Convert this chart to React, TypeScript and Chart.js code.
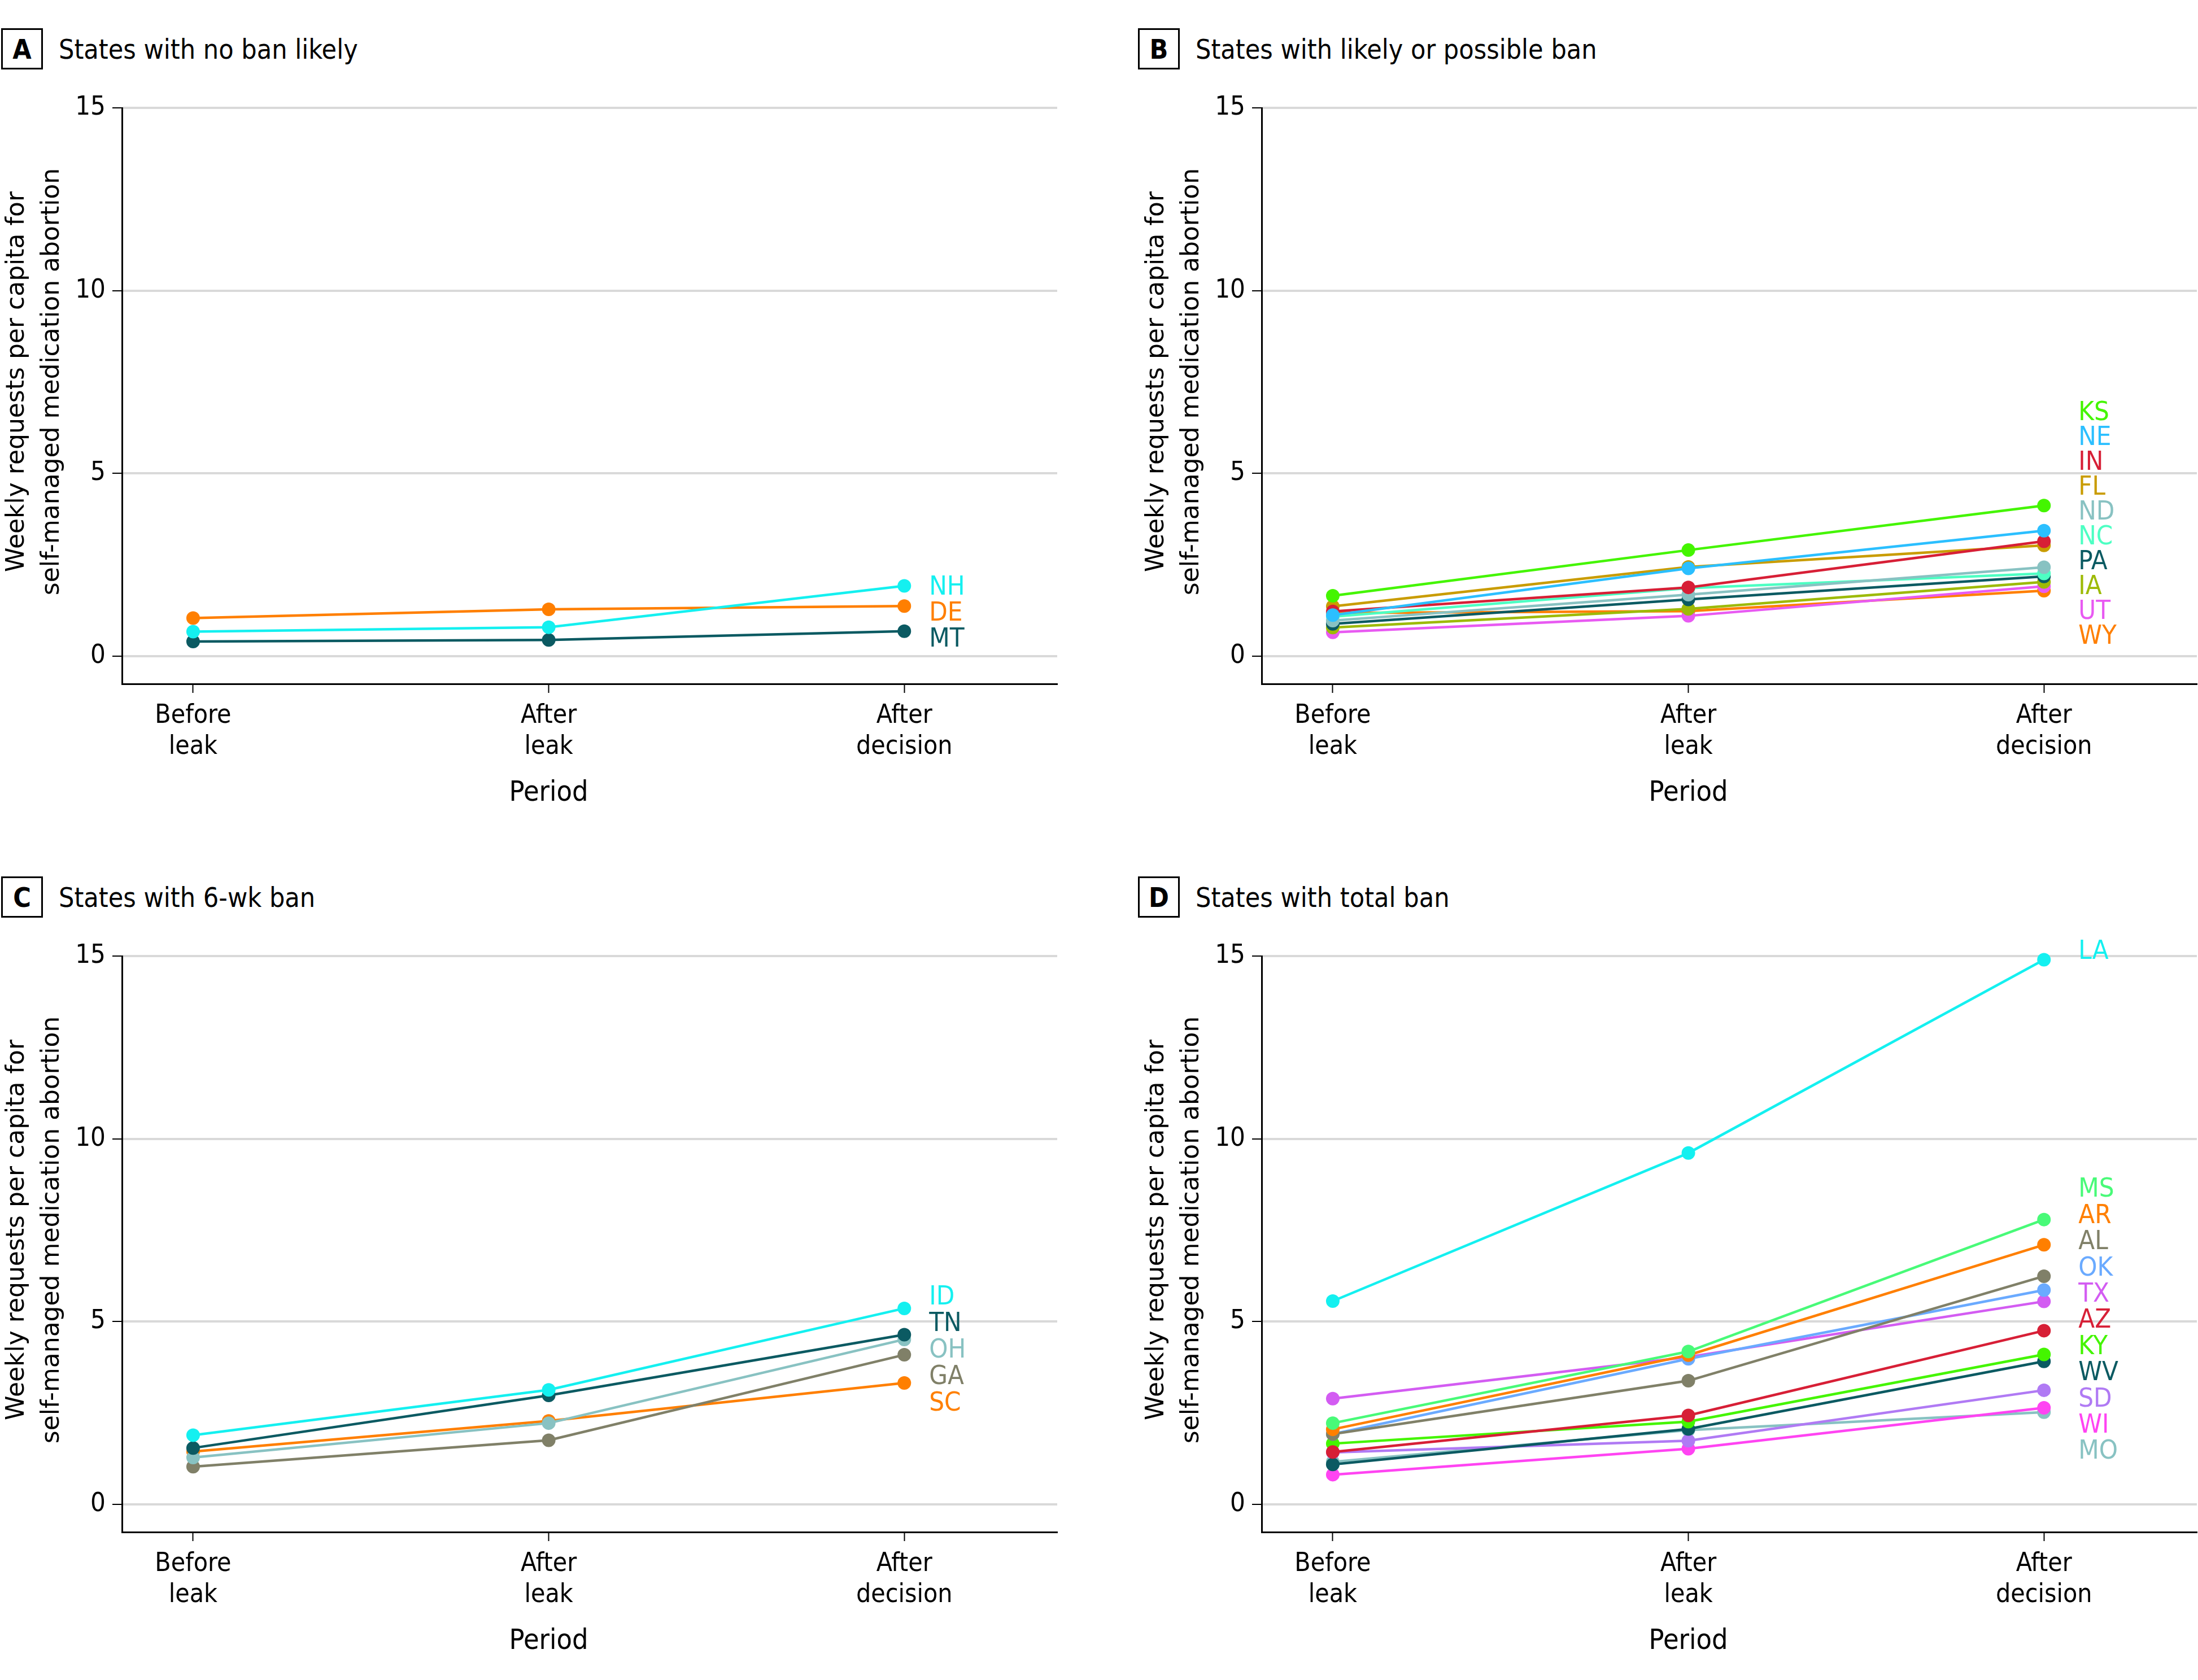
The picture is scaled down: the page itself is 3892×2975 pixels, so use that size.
import React, { useEffect, useRef } from 'react';
import { Chart, registerables } from 'chart.js';

Chart.register(...registerables);

// ---------- data ----------
const periodLabels = [['Before', 'leak'], ['After', 'leak'], ['After', 'decision']];
const yTickValues = [0, 5, 10, 15];

const statesA = ['NH', 'DE', 'MT'];
const valuesA = [
  [0.67, 0.79, 1.92],
  [1.04, 1.28, 1.37],
  [0.40, 0.44, 0.68],
];
const colorsA = ['#14f0f0', '#ff7f00', '#0b5a62'];

const statesB = ['KS', 'NE', 'IN', 'FL', 'ND', 'NC', 'PA', 'IA', 'UT', 'WY'];
const valuesB = [
  [1.65, 2.90, 4.12],
  [1.12, 2.40, 3.43],
  [1.22, 1.88, 3.14],
  [1.36, 2.44, 3.03],
  [0.97, 1.68, 2.43],
  [1.08, 1.86, 2.26],
  [0.88, 1.55, 2.18],
  [0.78, 1.29, 2.03],
  [0.65, 1.10, 1.91],
  [1.18, 1.23, 1.79],
];
const colorsB = ['#44f500', '#2bbfff', '#d71f36', '#c99c00', '#88c2c2', '#4dffc3', '#0b5a62', '#9dba06', '#e85af2', '#ff7f00'];

const statesC = ['ID', 'TN', 'OH', 'GA', 'SC'];
const valuesC = [
  [1.89, 3.13, 5.36],
  [1.54, 2.98, 4.64],
  [1.28, 2.22, 4.51],
  [1.03, 1.75, 4.09],
  [1.44, 2.28, 3.32],
];
const colorsC = ['#14f0f0', '#0b5a62', '#88c2c2', '#808068', '#ff7f00'];

const statesD = ['LA', 'MS', 'AR', 'AL', 'OK', 'TX', 'AZ', 'KY', 'WV', 'SD', 'WI', 'MO'];
const valuesD = [
  [5.56, 9.61, 14.9],
  [2.22, 4.18, 7.79],
  [2.05, 4.08, 7.10],
  [1.92, 3.38, 6.24],
  [1.92, 3.98, 5.86],
  [2.89, 4.03, 5.55],
  [1.43, 2.43, 4.75],
  [1.66, 2.26, 4.10],
  [1.09, 2.06, 3.91],
  [1.42, 1.74, 3.12],
  [0.81, 1.52, 2.64],
  [1.16, 2.03, 2.52],
];
const colorsD = ['#14f0f0', '#48fa78', '#ff7f00', '#808068', '#6aaaff', '#d35cf2', '#d71f36', '#44f500', '#0b5a62', '#b07af4', '#ff44f2', '#88c2c2'];

const yTitle = ['Weekly requests per capita for', 'self-managed medication abortion'];
const xTitle = 'Period';

// ---------- styling ----------
const COND = "'DejaVu Sans Condensed', 'Open Sans', sans-serif";
const REG = "'DejaVu Sans', 'Open Sans', sans-serif";

const endLabels = {
  id: 'endLabels',
  afterDatasetsDraw(chart: any, _args: any, opts: any) {
    const { ctx } = chart;
    const items = chart.data.datasets.map((ds: any, i: number) => {
      const meta = chart.getDatasetMeta(i);
      const pt = meta.data[meta.data.length - 1];
      return { text: ds.label, color: ds.borderColor, x: pt.x, y: pt.y };
    }).sort((a: any, b: any) => a.y - b.y);
    const sp = opts.spacing;
    let clusters = items.map((it: any) => ({ items: [it], lo: it.y, hi: it.y }));
    let merged = true;
    while (merged) {
      merged = false;
      for (let i = 0; i < clusters.length - 1; i++) {
        const a = clusters[i];
        const b = clusters[i + 1];
        const ca = (a.lo + a.hi) / 2;
        const cb = (b.lo + b.hi) / 2;
        if (ca + (a.items.length * sp) / 2 > cb - (b.items.length * sp) / 2) {
          clusters.splice(i, 2, { items: [...a.items, ...b.items], lo: Math.min(a.lo, b.lo), hi: Math.max(a.hi, b.hi) });
          merged = true;
          break;
        }
      }
    }
    ctx.save();
    ctx.font = `${opts.size}px ${COND}`;
    ctx.textAlign = 'left';
    ctx.textBaseline = 'middle';
    clusters.forEach((c: any) => {
      const single = c.items.length === 1;
      const center = (c.lo + c.hi) / 2 + (single ? opts.singleDy : opts.shift + opts.dy);
      const start = center - ((c.items.length - 1) * sp) / 2;
      c.items.forEach((it: any, k: number) => {
        ctx.fillStyle = it.color;
        ctx.fillText(it.text, it.x + opts.gap, start + k * sp);
      });
    });
    ctx.restore();
  },
};

const axisTitles = {
  id: 'axisTitles',
  afterDraw(chart: any) {
    const { ctx, chartArea } = chart;
    const xs = chart.scales.x;
    ctx.save();
    ctx.fillStyle = '#000';
    ctx.textAlign = 'center';
    ctx.textBaseline = 'middle';
    // x title, centred under the middle period
    ctx.font = `50px ${COND}`;
    ctx.fillText(xTitle, xs.getPixelForValue(1), chartArea.bottom + 194);
    // y title, two rotated lines
    ctx.font = `44px ${REG}`;
    const cy = (chartArea.top + chartArea.bottom) / 2 - 25;
    yTitle.forEach((line, i) => {
      ctx.save();
      ctx.translate(31 + i * 62, cy);
      ctx.rotate(-Math.PI / 2);
      ctx.fillText(line, 0, 0);
      ctx.restore();
    });
    ctx.restore();
  },
};

type PanelProps = {
  left: number;
  top: number;
  letter: string;
  title: string;
  boxLeft: number;
  states: string[];
  values: number[][];
  colors: string[];
  gap: number;
  spacing: number;
  shift: number;
};

const CANVAS_W = 1884;
const CANVAS_H = 1300;

function Panel(p: PanelProps) {
  const ref = useRef<HTMLCanvasElement | null>(null);
  useEffect(() => {
    if (!ref.current) return;
    const datasets = p.states.map((s, i) => ({
      label: s,
      data: p.values[i].map((v, j) => ({ x: j, y: v })),
      borderColor: p.colors[i],
      backgroundColor: p.colors[i],
      pointBackgroundColor: p.colors[i],
      pointBorderWidth: 0,
      pointRadius: 12,
      borderWidth: 4.5,
      tension: 0,
      clip: false as any,
    }));
    const chart = new Chart(ref.current, {
      type: 'line',
      data: { datasets },
      plugins: [endLabels as any, axisTitles as any],
      options: {
        responsive: false,
        animation: false,
        devicePixelRatio: 1,
        layout: { padding: { left: 0, top: 41, right: 0, bottom: 0 } },
        plugins: {
          legend: { display: false },
          tooltip: { enabled: false },
          endLabels: { gap: p.gap, spacing: p.spacing, size: 47, dy: 9, shift: p.shift, singleDy: -14 },
        } as any,
        scales: {
          x: {
            type: 'linear',
            min: -0.2,
            max: 2.43,
            afterFit: (s: any) => { s.height = 239; },
            ticks: {
              stepSize: 1,
              includeBounds: false,
              autoSkip: false,
              maxRotation: 0,
              padding: 13,
              color: '#000',
              font: { family: COND, size: 46, lineHeight: 1.2 },
              callback: (v: any) => (Number.isInteger(v) && periodLabels[v] ? periodLabels[v] : ''),
            },
            grid: { display: true, drawOnChartArea: false, drawTicks: true, tickLength: 16, tickColor: '#000', tickWidth: 2 },
            border: { display: true, color: '#000', width: 3 },
            title: { display: false },
          },
          y: {
            min: -0.76,
            max: 15,
            afterFit: (s: any) => { s.width = 216; },
            afterBuildTicks: (s: any) => { s.ticks = yTickValues.map((v) => ({ value: v })); },
            ticks: { padding: 12, color: '#000', font: { family: COND, size: 47 } },
            grid: { color: '#d9d9d9', lineWidth: 4, drawTicks: true, tickLength: 17, tickColor: '#000', tickWidth: 2 },
            border: { display: true, color: '#000', width: 3 },
            title: { display: false },
          },
        },
      } as any,
    });
    return () => chart.destroy();
  }, []);
  return (
    <div style={{ position: 'absolute', left: p.left, top: p.top, width: CANVAS_W, height: 1460 }}>
      <div style={{ position: 'absolute', left: p.boxLeft, top: 50, display: 'flex', alignItems: 'center', height: 73 }}>
        <div style={{ width: 68, height: 67, border: '3px solid #000', display: 'flex', alignItems: 'center', justifyContent: 'center', fontFamily: COND, fontWeight: 'bold', fontSize: 48, lineHeight: 1 }}>{p.letter}</div>
        <div style={{ marginLeft: 28, fontFamily: COND, fontSize: 48, lineHeight: 1, color: '#000' }}>{p.title}</div>
      </div>
      <canvas ref={ref} width={CANVAS_W} height={CANVAS_H} style={{ position: 'absolute', left: 0, top: 150, width: CANVAS_W, height: CANVAS_H }} />
    </div>
  );
}

export default function App() {
  return (
    <div style={{ position: 'absolute', left: 0, top: 0, width: 3892, height: 2975, background: '#fff', overflow: 'hidden' }}>
      <Panel left={0} top={0} letter="A" title="States with no ban likely" boxLeft={2} states={statesA} values={valuesA} colors={colorsA} gap={44} spacing={46} shift={0} />
      <Panel left={2018} top={0} letter="B" title="States with likely or possible ban" boxLeft={-3} states={statesB} values={valuesB} colors={colorsB} gap={61} spacing={44} shift={-50} />
      <Panel left={0} top={1502} letter="C" title="States with 6-wk ban" boxLeft={2} states={statesC} values={valuesC} colors={colorsC} gap={44} spacing={47} shift={0} />
      <Panel left={2018} top={1502} letter="D" title="States with total ban" boxLeft={-3} states={statesD} values={valuesD} colors={colorsD} gap={61} spacing={46.4} shift={0} />
    </div>
  );
}
